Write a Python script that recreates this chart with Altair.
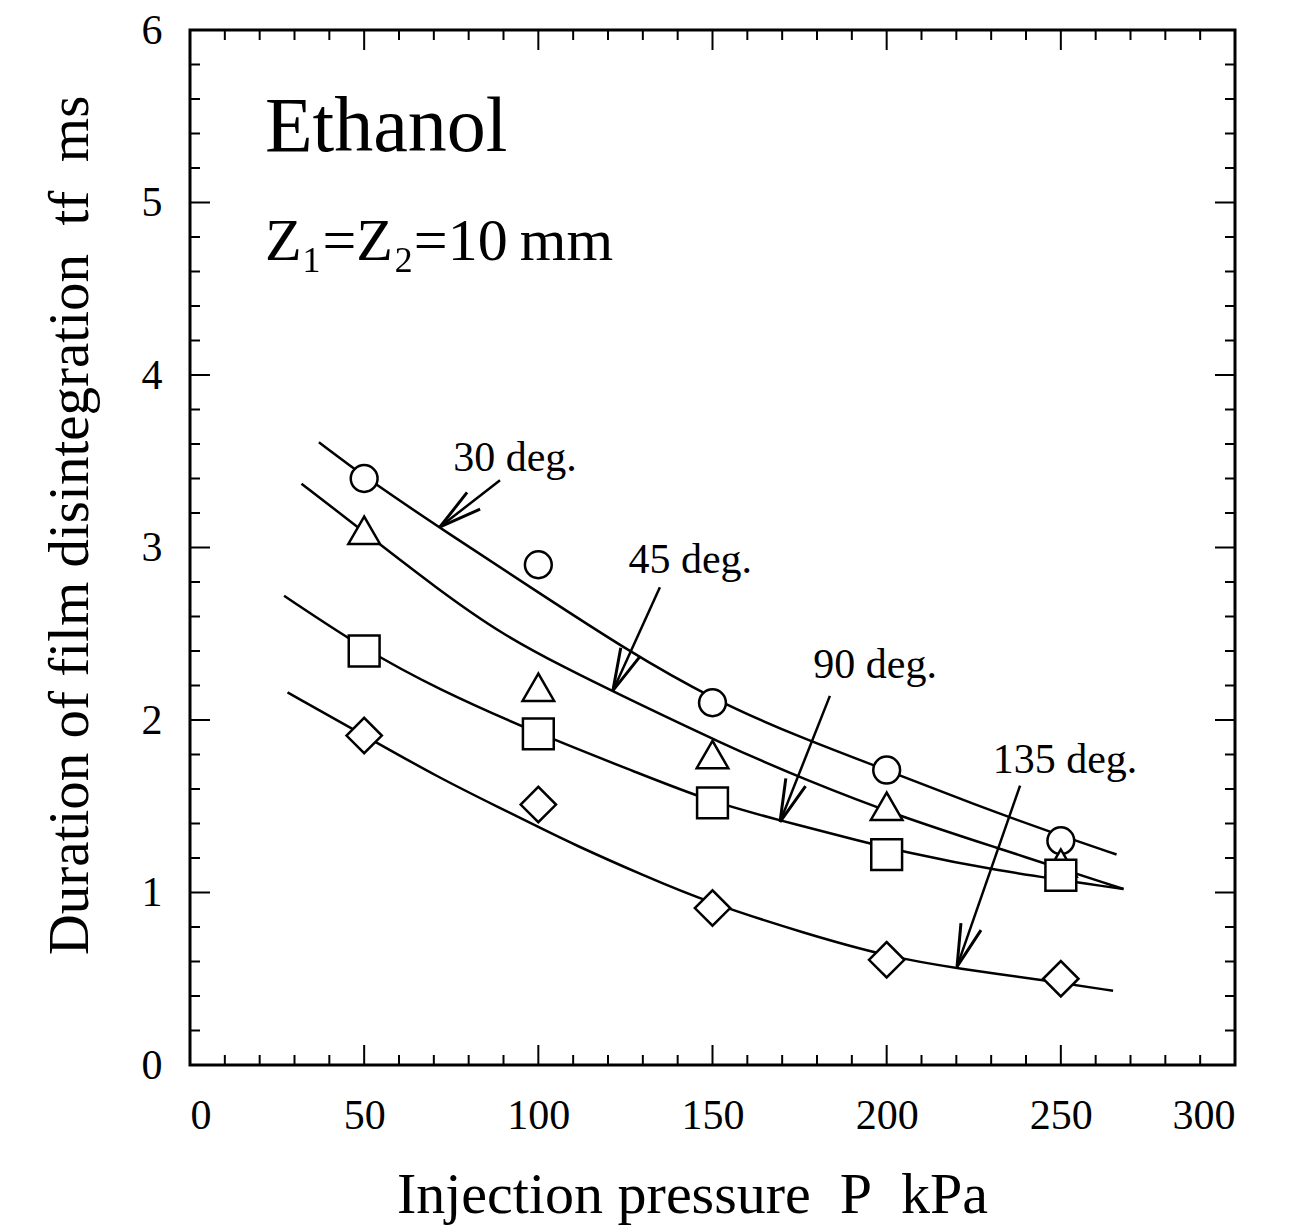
import math
import altair as alt
import pandas as pd

# ---------------- data ----------------
pressure = [50, 100, 150, 200, 250]
t_30 = [3.40, 2.90, 2.10, 1.71, 1.30]
t_45 = [3.10, 2.19, 1.80, 1.50, 1.17]
t_90 = [2.40, 1.92, 1.52, 1.22, 1.10]
t_135 = [1.91, 1.51, 0.91, 0.61, 0.50]

# fitted curves
c30_x = [37, 50, 75, 100, 125, 150, 175, 200, 225, 250, 266]
c30_y = [3.61, 3.41, 3.07, 2.74, 2.41, 2.12, 1.90, 1.71, 1.51, 1.33, 1.22]
c45_x = [32, 50, 71, 90, 109, 121, 153, 177, 204, 230, 268]
c45_y = [3.37, 3.09, 2.76, 2.49, 2.29, 2.17, 1.86, 1.65, 1.44, 1.27, 1.02]
c90_x = [27, 50, 71, 100, 129, 149, 169, 192, 204, 230, 268]
c90_y = [2.72, 2.41, 2.18, 1.92, 1.69, 1.53, 1.42, 1.30, 1.24, 1.13, 1.02]
c135_x = [28, 50, 71, 90, 100, 110, 130, 149, 177, 200, 220, 249, 265]
c135_y = [2.16, 1.91, 1.67, 1.48, 1.38, 1.28, 1.10, 0.94, 0.76, 0.63, 0.56, 0.48, 0.43]

series_names = ["30 deg.", "45 deg.", "90 deg.", "135 deg."]
series_shapes = ["circle", "triangle-up", "square", "diamond"]
series_sizes = [720, 1000, 950, 1250]

# annotation labels and arrows (label centre, arrow start, arrow tip)
lab_x = [93.3, 143.6, 196.7, 251.2]
lab_y = [3.52, 2.93, 2.32, 1.77]
arr_x0 = [89.0, 134.9, 183.7, 238.3]
arr_y0 = [3.39, 2.77, 2.14, 1.62]
arr_x1 = [71.8, 121.4, 169.4, 220.2]
arr_y1 = [3.12, 2.17, 1.41, 0.57]

x_major = [0, 50, 100, 150, 200, 250, 300]
x_minor = [v for v in range(10, 300, 10) if v % 50 != 0]
y_major = [0, 1, 2, 3, 4, 5, 6]
y_minor = [round(i * 0.2, 1) for i in range(1, 30) if i % 5 != 0]

# ---------------- layout ----------------
W, H = 1045, 1035
FONT = "Liberation Serif"
SW = 2.5
NB = "\u00a0"

pts = pd.DataFrame({
    "P": pressure * 4,
    "t": t_30 + t_45 + t_90 + t_135,
    "s": sum([[n] * 5 for n in series_names], []),
    "sz": sum([[z] * 5 for z in series_sizes], []),
})
curves = pd.DataFrame({
    "P": c30_x + c45_x + c90_x + c135_x,
    "t": c30_y + c45_y + c90_y + c135_y,
    "s": ["30 deg."] * len(c30_x) + ["45 deg."] * len(c45_x)
         + ["90 deg."] * len(c90_x) + ["135 deg."] * len(c135_x),
})

sx = W / 300.0
sy = H / 6.0
angles = []
for a, b, c, d in zip(arr_x0, arr_y0, arr_x1, arr_y1):
    dx = (c - a) * sx
    dy = -(d - b) * sy
    ang = math.degrees(math.atan2(dx, -dy)) % 360
    angles.append(ang)

labels = pd.DataFrame({"x": lab_x, "y": lab_y, "text": series_names})
arrows = pd.DataFrame({"x": arr_x0, "y": arr_y0, "x2": arr_x1, "y2": arr_y1})
heads = pd.DataFrame({"x": arr_x1, "y": arr_y1, "ang": angles})

xs = alt.Scale(domain=[0, 300], nice=False, zero=False)
ys = alt.Scale(domain=[0, 6], nice=False, zero=False)

xaxis = alt.Axis(values=x_major, format="d",
                 title=f"Injection pressure{NB}{NB}P{NB}{NB}kPa", grid=False,
                 ticks=False, domain=False, labelFont=FONT, labelFontSize=42,
                 labelColor="black", labelPadding=30, titleFont=FONT,
                 titleFontSize=58, titleFontWeight="normal", titleColor="black",
                 titleX=502, titleY=130, titleBaseline="middle", titleAlign="center")
yaxis = alt.Axis(values=y_major, format="d",
                 title=f"Duration of film disintegration{NB}{NB}tf{NB}{NB}ms",
                 grid=False, ticks=False, domain=False, labelFont=FONT,
                 labelFontSize=42, labelColor="black", labelPadding=28,
                 titleFont=FONT, titleFontSize=57, titleFontWeight="normal",
                 titleColor="black", titleX=-120, titleY=495,
                 titleBaseline="middle", titleAlign="center", titleAngle=270)

lines = alt.Chart(curves).mark_line(color="black", strokeWidth=SW, interpolate="basis").encode(
    x=alt.X("P:Q", scale=xs, axis=xaxis),
    y=alt.Y("t:Q", scale=ys, axis=yaxis),
    detail="s:N",
)

points = alt.Chart(pts).mark_point(filled=True, fill="white", stroke="black",
                                    strokeWidth=SW, opacity=1).encode(
    x=alt.X("P:Q", scale=xs),
    y=alt.Y("t:Q", scale=ys),
    shape=alt.Shape("s:N", scale=alt.Scale(domain=series_names, range=series_shapes), legend=None),
    size=alt.Size("sz:Q", scale=None),
)

lab_text = alt.Chart(labels).mark_text(font=FONT, fontSize=42, color="black",
                                        align="center", baseline="middle").encode(
    x=alt.X("x:Q", scale=xs), y=alt.Y("y:Q", scale=ys), text="text:N")

arrow_lines = alt.Chart(arrows).mark_rule(color="black", strokeWidth=SW).encode(
    x=alt.X("x:Q", scale=xs), y=alt.Y("y:Q", scale=ys), x2="x2:Q", y2="y2:Q")

arrow_heads = alt.Chart(heads).mark_point(
    shape="M-0.3,1.2L0,0L0.3,1.2", filled=False, stroke="black",
    strokeWidth=3, size=5000, opacity=1).encode(
    x=alt.X("x:Q", scale=xs), y=alt.Y("y:Q", scale=ys),
    angle=alt.Angle("ang:Q", scale=None))

notes = pd.DataFrame({"x": [21.5, 21.5], "y": [5.43, 4.77],
                      "text": ["Ethanol", "Z\u2081=Z\u2082=10\u2009mm"],
                      "fs": [78, 60]})
note_text = alt.Chart(notes).mark_text(font=FONT, color="black", align="left",
                                       baseline="middle").encode(
    x=alt.X("x:Q", scale=xs), y=alt.Y("y:Q", scale=ys), text="text:N",
    size=alt.Size("fs:Q", scale=None))

# inward ticks on all four sides
xmaj = pd.DataFrame({"v": x_major})
xmin = pd.DataFrame({"v": x_minor})
ymaj = pd.DataFrame({"v": y_major})
ymin = pd.DataFrame({"v": y_minor})

def xticks(df, length):
    b = alt.Chart(df).mark_rule(color="black", strokeWidth=2).encode(
        x=alt.X("v:Q", scale=xs), y=alt.value(H), y2=alt.value(H - length))
    t = alt.Chart(df).mark_rule(color="black", strokeWidth=2).encode(
        x=alt.X("v:Q", scale=xs), y=alt.value(0), y2=alt.value(length))
    return b + t

def yticks(df, length):
    l = alt.Chart(df).mark_rule(color="black", strokeWidth=2).encode(
        y=alt.Y("v:Q", scale=ys), x=alt.value(0), x2=alt.value(length))
    r = alt.Chart(df).mark_rule(color="black", strokeWidth=2).encode(
        y=alt.Y("v:Q", scale=ys), x=alt.value(W), x2=alt.value(W - length))
    return l + r

chart = alt.layer(
    lines, xticks(xmaj, 20), xticks(xmin, 10), yticks(ymaj, 20), yticks(ymin, 10),
    arrow_lines, arrow_heads, points, lab_text, note_text,
).properties(
    width=W, height=H,
    autosize=alt.AutoSizeParams(type="none"),
    padding={"left": 190, "top": 30, "right": 58, "bottom": 166},
    background="white",
).configure_view(stroke="black", strokeWidth=3)

chart.save("out.html", embed_options={"renderer": "svg", "actions": False})
